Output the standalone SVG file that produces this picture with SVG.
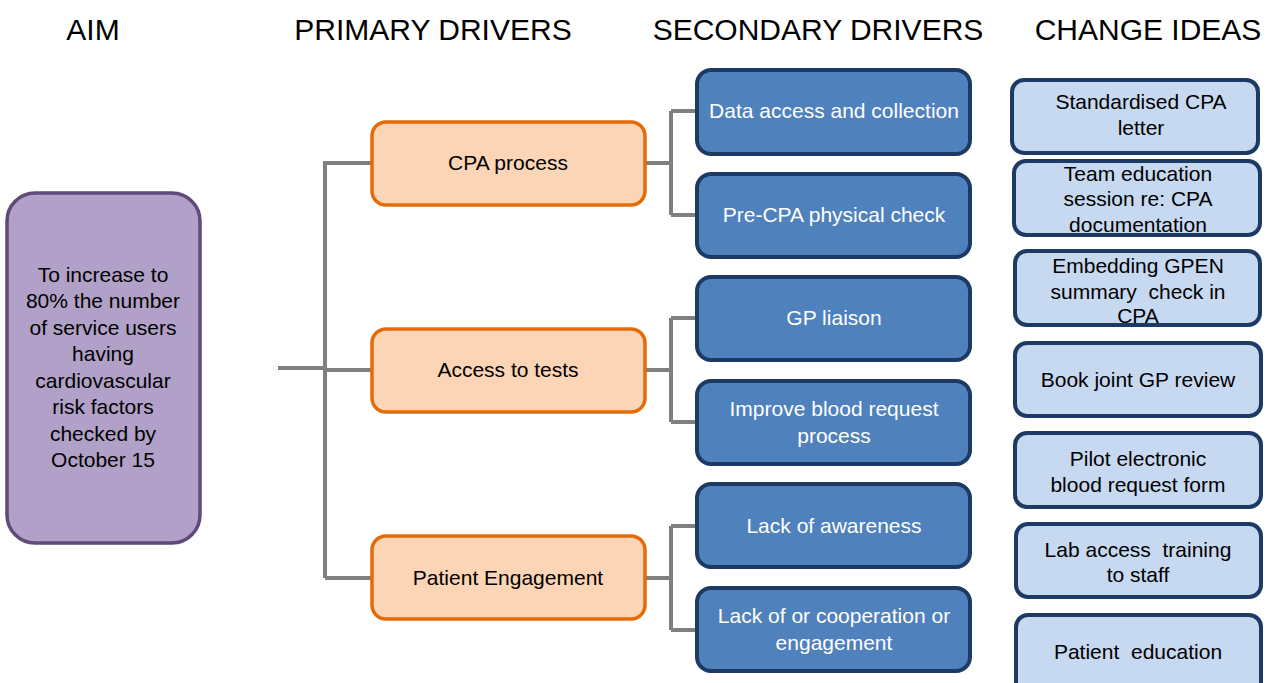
<svg xmlns="http://www.w3.org/2000/svg" width="1266" height="683" viewBox="0 0 1266 683">
<style>
text{font-family:"Liberation Sans",Arial,sans-serif;text-anchor:middle;white-space:pre}
.h{font-size:30px;fill:#000}
.t{font-size:21px;fill:#000}
.w{font-size:21px;fill:#fff}
.aim{fill:#b1a0c7;stroke:#604a7b;stroke-width:3.5}
.pri{fill:#fbd5b5;stroke:#e36c09;stroke-width:3.5}
.sec{fill:#4f81bd;stroke:#1c3a63;stroke-width:4}
.chg{fill:#c6d9f1;stroke:#1c3a63;stroke-width:4}
.c{fill:none;stroke:#808080;stroke-width:4}
</style>
<rect width="1266" height="683" fill="#fff"/>
<g id="headers">
<text class="h" x="93" y="40">AIM</text>
<text class="h" x="433" y="40">PRIMARY DRIVERS</text>
<text class="h" x="818" y="40">SECONDARY DRIVERS</text>
<text class="h" x="1148" y="40">CHANGE IDEAS</text>
</g>
<g id="connectors">
<path class="c" d="M278 368H325M325 161V578M325 163H372M325 370H372M325 578H372"/>
<path class="c" d="M645 163H671M671 111V215M671 111H697M671 215H697"/>
<path class="c" d="M645 370H671M671 318V422M671 318H697M671 422H697"/>
<path class="c" d="M645 578H671M671 526V630M671 526H697M671 630H697"/>
</g>
<g id="aim">
<rect class="aim" x="7" y="193" width="193" height="350" rx="28"/>
<text class="t" x="103" y="282">To increase to</text>
<text class="t" x="103" y="308">80% the number</text>
<text class="t" x="103" y="335">of service users</text>
<text class="t" x="103" y="361">having</text>
<text class="t" x="103" y="388">cardiovascular</text>
<text class="t" x="103" y="414">risk factors</text>
<text class="t" x="103" y="441">checked by</text>
<text class="t" x="103" y="467">October 15</text>
</g>
<g id="p1"><rect class="pri" x="372" y="122" width="273" height="83" rx="14"/><text class="t" x="508" y="170">CPA process</text></g>
<g id="p2"><rect class="pri" x="372" y="329" width="273" height="83" rx="14"/><text class="t" x="508" y="377">Access to tests</text></g>
<g id="p3"><rect class="pri" x="372" y="536" width="273" height="83" rx="14"/><text class="t" x="508" y="585">Patient Engagement</text></g>
<g id="s1"><rect class="sec" x="697" y="70" width="273" height="84" rx="14"/><text class="w" x="834" y="118">Data access and collection</text></g>
<g id="s2"><rect class="sec" x="697" y="174" width="273" height="83" rx="14"/><text class="w" x="834" y="222">Pre-CPA physical check</text></g>
<g id="s3"><rect class="sec" x="697" y="277" width="273" height="83" rx="14"/><text class="w" x="834" y="325">GP liaison</text></g>
<g id="s4"><rect class="sec" x="697" y="381" width="273" height="83" rx="14"/><text class="w" x="834" y="416">Improve blood request</text><text class="w" x="834" y="443">process</text></g>
<g id="s5"><rect class="sec" x="697" y="484" width="273" height="83" rx="14"/><text class="w" x="834" y="533">Lack of awareness</text></g>
<g id="s6"><rect class="sec" x="697" y="588" width="273" height="83" rx="14"/><text class="w" x="834" y="623">Lack of or cooperation or</text><text class="w" x="834" y="650">engagement</text></g>
<g id="c1"><rect class="chg" x="1012" y="80" width="246" height="73" rx="12"/><text class="t" x="1141" y="109">Standardised CPA</text><text class="t" x="1141" y="135">letter</text></g>
<g id="c2"><rect class="chg" x="1014" y="161" width="246" height="74" rx="12"/><text class="t" x="1138" y="181">Team education</text><text class="t" x="1138" y="206">session re: CPA</text><text class="t" x="1138" y="232">documentation</text></g>
<g id="c3"><rect class="chg" x="1015" y="251" width="245" height="74" rx="12"/><text class="t" x="1138" y="273">Embedding GPEN</text><text class="t" x="1138" y="299">summary  check in</text><text class="t" x="1138" y="323">CPA</text></g>
<g id="c4"><rect class="chg" x="1015" y="343" width="246" height="73" rx="12"/><text class="t" x="1138" y="387">Book joint GP review</text></g>
<g id="c5"><rect class="chg" x="1015" y="433" width="246" height="74" rx="12"/><text class="t" x="1138" y="466">Pilot electronic</text><text class="t" x="1138" y="492">blood request form</text></g>
<g id="c6"><rect class="chg" x="1016" y="524" width="245" height="73" rx="12"/><text class="t" x="1138" y="557">Lab access  training</text><text class="t" x="1138" y="582">to staff</text></g>
<g id="c7"><rect class="chg" x="1016" y="615" width="245" height="80" rx="12"/><text class="t" x="1138" y="659">Patient  education</text></g>
</svg>
